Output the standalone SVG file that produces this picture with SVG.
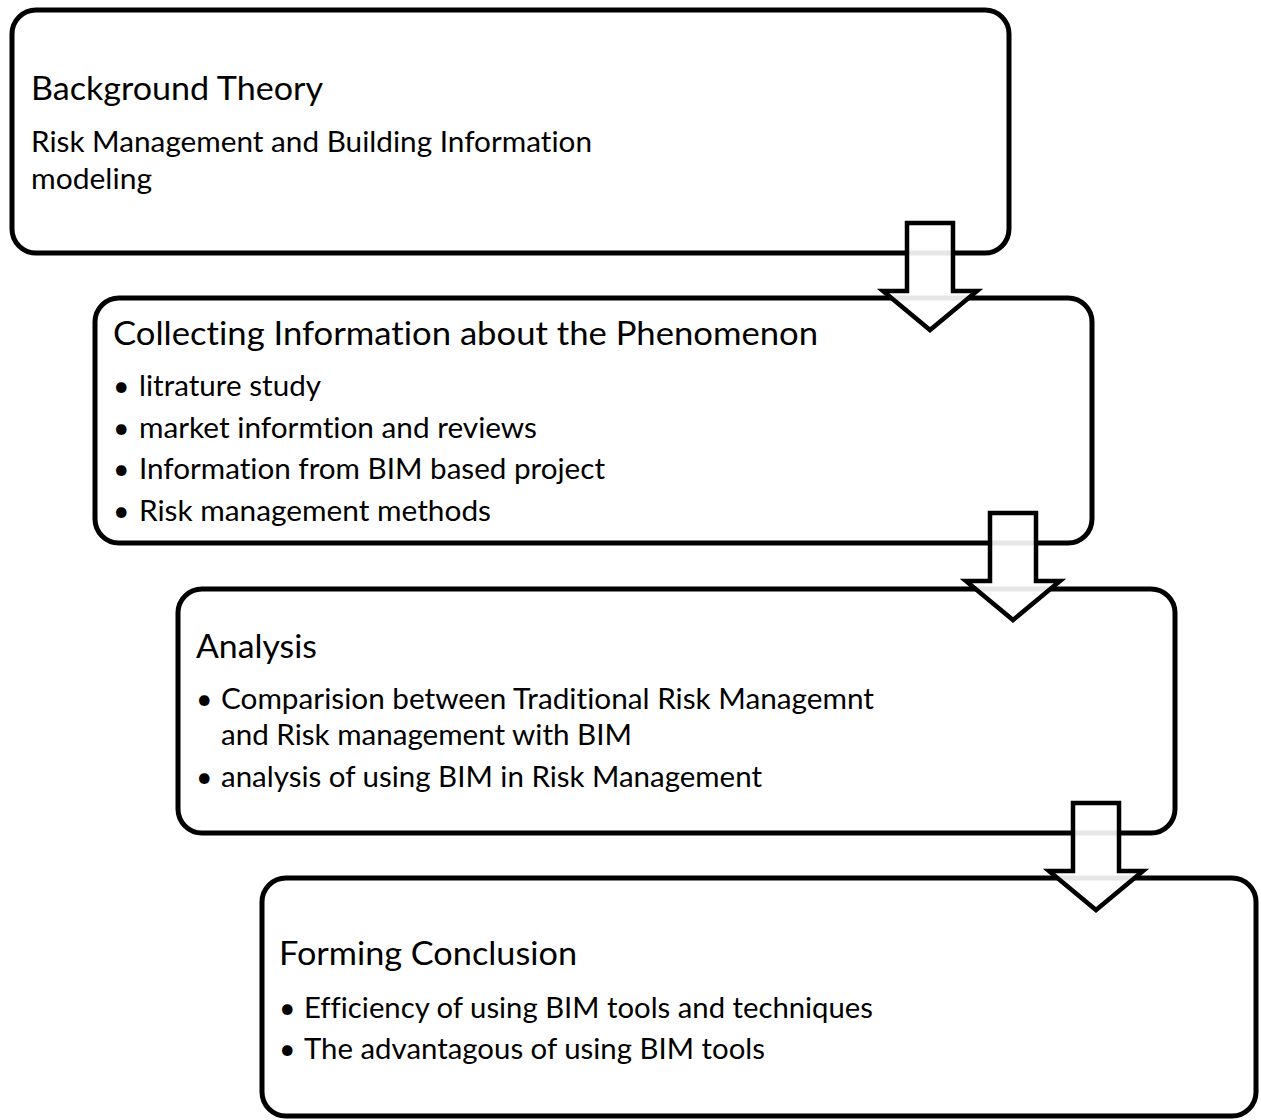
<svg xmlns="http://www.w3.org/2000/svg" width="1261" height="1120" viewBox="0 0 1261 1120">
<style>
.box{fill:#fff;stroke:#000;stroke-width:5}
.t{font-family:Lato,"Open Sans","Liberation Sans",sans-serif;fill:#000;font-variant-ligatures:none;font-feature-settings:"liga" 0,"dlig" 0}
.h{font-size:33px}
.b{font-size:28.5px}
.arrow{fill:#fff;fill-opacity:0.9;stroke:#000;stroke-width:4.5;stroke-linejoin:miter}
</style>
<rect width="1261" height="1120" fill="#fff"/>
<g id="node-background">
<rect class="box" x="12" y="10" width="997" height="243" rx="24"/>
<text class="t h" x="31" y="100" textLength="292" lengthAdjust="spacingAndGlyphs">Background Theory</text>
<text class="t b" x="31" y="152" textLength="561" lengthAdjust="spacingAndGlyphs">Risk Management and Building Information</text>
<text class="t b" x="31" y="189" textLength="121" lengthAdjust="spacingAndGlyphs">modeling</text>
</g>
<g id="node-collecting">
<rect class="box" x="95" y="298" width="997" height="245" rx="24"/>
<text class="t h" x="113" y="345" textLength="705" lengthAdjust="spacingAndGlyphs">Collecting Information about the Phenomenon</text>
<text class="t b" x="113" y="396">•</text>
<text class="t b" x="139" y="396" textLength="182" lengthAdjust="spacingAndGlyphs">litrature study</text>
<text class="t b" x="113" y="438">•</text>
<text class="t b" x="139" y="438" textLength="398" lengthAdjust="spacingAndGlyphs">market informtion and reviews</text>
<text class="t b" x="113" y="479">•</text>
<text class="t b" x="139" y="479" textLength="466" lengthAdjust="spacingAndGlyphs">Information from BIM based project</text>
<text class="t b" x="113" y="521">•</text>
<text class="t b" x="139" y="521" textLength="352" lengthAdjust="spacingAndGlyphs">Risk management methods</text>
</g>
<g id="node-analysis">
<rect class="box" x="178" y="589" width="997" height="244" rx="24"/>
<text class="t h" x="196" y="658" textLength="121" lengthAdjust="spacingAndGlyphs">Analysis</text>
<text class="t b" x="196" y="709">•</text>
<text class="t b" x="221" y="709" textLength="653" lengthAdjust="spacingAndGlyphs">Comparision between Traditional Risk Managemnt</text>
<text class="t b" x="221" y="745" textLength="411" lengthAdjust="spacingAndGlyphs">and Risk management with BIM</text>
<text class="t b" x="196" y="787">•</text>
<text class="t b" x="221" y="787" textLength="541" lengthAdjust="spacingAndGlyphs">analysis of using BIM in Risk Management</text>
</g>
<g id="node-conclusion">
<rect class="box" x="262" y="878" width="994" height="238" rx="24"/>
<text class="t h" x="279" y="965" textLength="298" lengthAdjust="spacingAndGlyphs">Forming Conclusion</text>
<text class="t b" x="279" y="1018">•</text>
<text class="t b" x="304" y="1018" textLength="569" lengthAdjust="spacingAndGlyphs">Efficiency of using BIM tools and techniques</text>
<text class="t b" x="279" y="1059">•</text>
<text class="t b" x="304" y="1059" textLength="461" lengthAdjust="spacingAndGlyphs">The advantagous of using BIM tools</text>
</g>
<g id="connectors">
<polygon class="arrow" points="907,223 953,223 953,291 977,291 930,330 883,291 907,291"/>
<polygon class="arrow" points="990,513 1036,513 1036,581 1060,581 1013,620 966,581 990,581"/>
<polygon class="arrow" points="1073,803 1119,803 1119,871 1143,871 1096,910 1049,871 1073,871"/>
</g>
</svg>
